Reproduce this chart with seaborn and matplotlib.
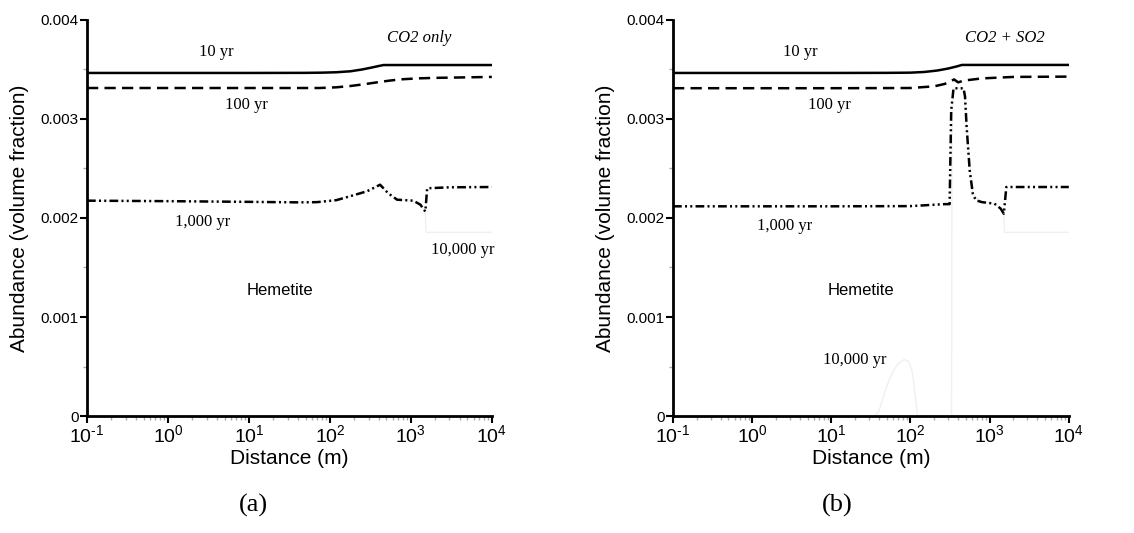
import numpy as np
import pandas as pd
import matplotlib
matplotlib.use("Agg")
import matplotlib.pyplot as plt
import seaborn as sns
from matplotlib.ticker import FixedLocator, FixedFormatter, LogLocator, NullFormatter

sns.set_style("white")
plt.rcParams['font.family'] = ['Liberation Sans', 'DejaVu Sans']
plt.rcParams['mathtext.fontset'] = 'custom'
plt.rcParams['mathtext.rm'] = 'Liberation Sans'
plt.rcParams['mathtext.it'] = 'Liberation Sans:italic'
plt.rcParams['text.color'] = 'black'
plt.rcParams['axes.labelcolor'] = 'black'
plt.rcParams['xtick.color'] = 'black'
plt.rcParams['ytick.color'] = 'black'

# ---------------- data (Distance m, Abundance volume fraction) ----------------
# Panel (a): CO2 only
a_10_x = [0.1, 1, 10, 50, 80, 120, 180, 250, 330, 400, 460, 1000, 10000]
a_10_y = [0.003465, 0.003465, 0.003465, 0.003466, 0.003468, 0.003472, 0.003482, 0.003500, 0.003520, 0.003535, 0.003545, 0.003545, 0.003545]

a_100_x = [0.1, 1, 10, 75, 120, 178, 260, 380, 550, 740, 1200, 1900, 10000]
a_100_y = [0.003313, 0.003313, 0.003313, 0.003313, 0.003320, 0.003333, 0.003350, 0.003370, 0.003388, 0.003400, 0.003410, 0.003415, 0.003425]

a_1000_x = [0.1, 1, 10, 40, 69, 120, 178, 288, 417, 525, 676, 1070, 1310, 1510, 1590, 3000, 10000]
a_1000_y = [0.002175, 0.002170, 0.002163, 0.002158, 0.002160, 0.002180, 0.002220, 0.002270, 0.002336, 0.002250, 0.002185, 0.002175, 0.002135, 0.002065, 0.002300, 0.002310, 0.002313]

a_10000_x = [0.1, 1, 10, 40, 69, 120, 178, 288, 417, 525, 676, 1070, 1310, 1510, 1540, 3000, 10000]
a_10000_y = [0.002175, 0.002170, 0.002163, 0.002158, 0.002160, 0.002180, 0.002220, 0.002270, 0.002336, 0.002250, 0.002185, 0.002175, 0.002135, 0.002065, 0.001855, 0.001855, 0.001855]

# Panel (b): CO2 + SO2
b_10_x = [0.1, 1, 10, 50, 100, 150, 220, 300, 380, 447, 1000, 10000]
b_10_y = [0.003465, 0.003465, 0.003465, 0.003466, 0.003468, 0.003475, 0.003490, 0.003510, 0.003530, 0.003546, 0.003546, 0.003546]

b_100_x = [0.1, 1, 10, 100, 200, 270, 330, 355, 400, 470, 800, 2000, 10000]
b_100_y = [0.003311, 0.003311, 0.003311, 0.003313, 0.003330, 0.003354, 0.003385, 0.003400, 0.003370, 0.003388, 0.003410, 0.003425, 0.003428]

b_1000_x = [0.1, 1, 10, 100, 270, 312, 327, 350, 468, 489, 512, 560, 613, 670, 803, 1150, 1380, 1510, 1625, 3000, 10000]
b_1000_y = [0.002118, 0.002118, 0.002118, 0.002120, 0.002140, 0.002140, 0.003090, 0.003310, 0.003310, 0.003226, 0.002920, 0.002480, 0.002245, 0.002178, 0.002160, 0.002145, 0.002094, 0.002043, 0.002313, 0.002313, 0.002313]

b_10000_x = [0.1, 10, 35, 40, 50, 60, 70, 83, 95, 105, 115, 123, 300, 330, 335, 350, 468, 512, 613, 803, 1150, 1380, 1510, 1540, 3000, 10000]
b_10000_y = [0.0, 0.0, 0.0, 0.00005, 0.00030, 0.00045, 0.00053, 0.00057, 0.00055, 0.00045, 0.00020, 0.0, 0.0, 0.0, 0.003090, 0.003310, 0.003310, 0.002920, 0.002245, 0.002160, 0.002145, 0.002094, 0.002043, 0.001855, 0.001855, 0.001855]

y_ticks = [0.0, 0.001, 0.002, 0.003, 0.004]
y_tick_labels = ["0", "0.001", "0.002", "0.003", "0.004"]
y_minor = [0.0005, 0.0015, 0.0025, 0.0035]
x_ticks = [0.1, 1, 10, 100, 1000, 10000]
x_tick_labels = [r"$10^{\text{-}1}$", r"$10^{0}$", r"$10^{1}$", r"$10^{2}$", r"$10^{3}$", r"$10^{4}$"]

# ---------------- figure ----------------
fig = plt.figure(figsize=(11.34, 5.33), dpi=100)
ax1 = fig.add_axes([0.0767, 0.2195, 0.357, 0.743])
ax2 = fig.add_axes([0.5935, 0.2195, 0.349, 0.743])

faint = '#f0f0f0'
dash_s = (0, (4.5, 2.5))
ddot_s = (0, (3.5, 1.3, 0.8, 1.3, 0.8, 1.3))

def draw(ax, s10, s100, s1000, s10000):
    sns.lineplot(x=s10000[0], y=s10000[1], ax=ax, color=faint, linewidth=1.0, sort=False, estimator=None)
    sns.lineplot(x=s1000[0], y=s1000[1], ax=ax, color='black', linewidth=1.8, linestyle=ddot_s, sort=False, estimator=None)
    sns.lineplot(x=s100[0], y=s100[1], ax=ax, color='black', linewidth=1.8, linestyle=dash_s, sort=False, estimator=None)
    sns.lineplot(x=s10[0], y=s10[1], ax=ax, color='black', linewidth=1.8, sort=False, estimator=None)

    ax.set_xscale('log')
    ax.set_xlim(0.1, 10000)
    ax.set_ylim(0, 0.004)
    ax.xaxis.set_major_locator(FixedLocator(x_ticks))
    ax.xaxis.set_major_formatter(FixedFormatter(x_tick_labels))
    ax.xaxis.set_minor_locator(LogLocator(base=10, subs=np.arange(2, 10), numticks=20))
    ax.xaxis.set_minor_formatter(NullFormatter())
    ax.yaxis.set_major_locator(FixedLocator(y_ticks))
    ax.yaxis.set_major_formatter(FixedFormatter(y_tick_labels))
    ax.yaxis.set_minor_locator(FixedLocator(y_minor))

    for sp in ['top', 'right']:
        ax.spines[sp].set_visible(False)
    for sp in ['left', 'bottom']:
        ax.spines[sp].set_linewidth(2.0)
        ax.spines[sp].set_color('black')
    ax.tick_params(axis='both', which='both', bottom=True, left=True, top=False, right=False)
    ax.tick_params(axis='both', which='major', direction='out', length=5, width=1.5, color='black')
    ax.tick_params(axis='both', which='minor', direction='out', length=3, width=1.0, color='#aaaaaa')
    ax.tick_params(axis='x', which='major', labelsize=14, pad=1)
    ax.tick_params(axis='y', which='major', labelsize=11, pad=1)
    ax.set_xlabel("Distance (m)", fontsize=15, labelpad=2)
    ax.set_ylabel("Abundance (volume fraction)", fontsize=15, labelpad=8)
    ax.patch.set_alpha(0)

draw(ax1, (a_10_x, a_10_y), (a_100_x, a_100_y), (a_1000_x, a_1000_y), (a_10000_x, a_10000_y))
draw(ax2, (b_10_x, b_10_y), (b_100_x, b_100_y), (b_1000_x, b_1000_y), (b_10000_x, b_10000_y))

serif = ['Liberation Serif', 'DejaVu Serif']
tk = dict(family=serif, fontsize=12, ha='center', va='center')

ax1.text(4.0, 0.00368, "10 yr", **tk)
ax1.text(9.4, 0.00314, "100 yr", **tk)
ax1.text(2.7, 0.00196, "1,000 yr", **tk)
ax1.text(4400, 0.00168, "10,000 yr", **tk)
ax1.text(1260, 0.00382, "CO2 only", family=serif, fontsize=12, style='italic', ha='center', va='center')
ax1.text(24, 0.00127, "Hemetite", fontsize=12, ha='center', va='center')

ax2.text(4.0, 0.00368, "10 yr", **tk)
ax2.text(9.6, 0.00314, "100 yr", **tk)
ax2.text(2.6, 0.00192, "1,000 yr", **tk)
ax2.text(20, 0.00057, "10,000 yr", **tk)
ax2.text(1580, 0.00382, "CO2 + SO2", family=serif, fontsize=12, style='italic', ha='center', va='center')
ax2.text(24, 0.00127, "Hemetite", fontsize=12, ha='center', va='center')

fig.text(253 / 1134, 1 - 505 / 533, "(a)", family=serif, fontsize=19, ha='center', va='center')
fig.text(837 / 1134, 1 - 505 / 533, "(b)", family=serif, fontsize=19, ha='center', va='center')

fig.savefig("out.png", dpi=100)
